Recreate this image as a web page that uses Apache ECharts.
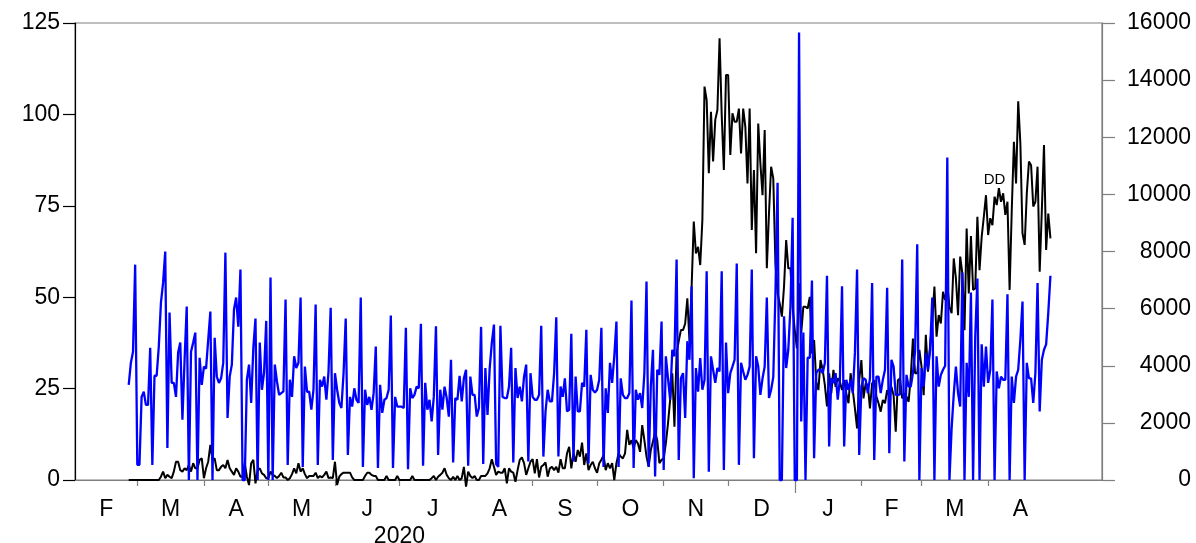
<!DOCTYPE html>
<html>
<head>
<meta charset="utf-8">
<script src="https://cdn.jsdelivr.net/npm/echarts@6/dist/echarts.min.js"></script>
<style>
  html, body { margin: 0; padding: 0; background: #ffffff; }
  #chart { width: 1196px; height: 543px; }
</style>
</head>
<body>
<div id="chart"></div>
<script>
// Daily series, both starting on 26 Feb 2020
const seriesStart = '2020-02-26';
const axisStart = '2020-02-01';
const axisEnd = '2021-05-24';
const monthLetters = ['J', 'F', 'M', 'A', 'M', 'J', 'J', 'A', 'S', 'O', 'N', 'D'];
const yearLabel = '2020';
const yearLabelDate = '2020-07-01';
const yearBreakDate = '2021-01-01';
const firstMonthTick = '2020-03-01';
const lastMonthTick = '2021-04-01';
const firstMonthLabel = '2020-02-01';
const lastMonthLabel = '2021-04-01';
const leftAxis = { min: 0, max: 125, step: 25 };
const rightAxis = { min: 0, max: 16000, step: 2000 };
const noteText = 'DD';
const noteAt = { date: '2021-04-04', value: 82 };

// Left scale (black)
const blackValues = [
  0, 0, 0, 0, 0, 0, 0, 0, 0, 0,
  0, 0, 0, 0, 0, 0.9, 2.3, 0.5, 1.4, 0.9,
  0.5, 2.3, 5.0, 5.0, 2.7, 2.3, 3.2, 2.7, 4.1, 2.3,
  4.6, 3.2, 3.2, 5.5, 5.9, 0.5, 3.2, 5.0, 9.6, 5.5,
  5.9, 2.7, 2.7, 3.6, 4.1, 3.2, 5.5, 3.2, 2.3, 1.4,
  3.2, 2.3, 0.9, 0.9, 4.6, 0.9, -1.4, 4.6, 5.5, -0.9,
  2.7, 3.2, 1.8, 1.4, 0.5, 0.5, 2.3, 1.4, 1.1, 0.5,
  1.1, 2.0, 0.7, 0.7, 0, 0.5, 1.6, 3.2, 1.8, 4.6,
  2.3, 3.2, 1.6, 0.5, 1.1, 1.1, 1.1, 2.0, 0.5, 1.1,
  0.7, 1.4, 2.3, 0.5, 0.7, 0.5, 5.0, -1.4, 0.9, 1.6,
  2.0, 2.0, 2.0, 2.0, 0.7, 0, 0, 0, 0, 0,
  1.1, 2.0, 2.0, 1.4, 1.1, 1.1, 0, 0, 0, 0,
  1.1, 0, 0, 0, 0, 1.1, 0, 0, 0, 0,
  0, 0, 1.1, 0, 0, 0, 0, 0, 0, 0,
  0, 0.5, 1.1, 0, 0.9, 1.4, 2.0, 3.2, 1.4, 0.5,
  0, 0.9, 0, 1.1, 0, 0.5, 3.6, -1.8, 2.3, 1.1,
  0.5, 1.1, 0, 0, 1.1, 1.1, 1.1, 1.8, 3.2, 5.7,
  3.6, 1.4, 2.3, 2.0, 2.0, 3.2, -0.9, 3.2, 2.3, 2.0,
  -0.5, 2.7, 5.5, 6.2, 4.6, 1.4, 3.2, 5.0, 5.7, 1.8,
  5.7, 0.7, 3.6, 4.1, 4.8, 0.9, 3.2, 3.6, 2.7, 3.6,
  2.0, 5.7, 3.2, 3.2, 7.3, 9.1, 3.2, 7.3, 5.0, 8.2,
  6.4, 10.2, 4.1, 7.3, 2.7, 4.1, 5.0, 3.2, 2.0, 4.6,
  5.5, 6.8, 2.7, 4.6, 3.2, 4.6, 0, 4.6, 7.3, 6.4,
  5.9, 7.3, 13.7, 9.6, 10.9, 8.7, 10.9, 10.0, 7.7, 15.0,
  10.9, 6.4, 3.6, 8.2, 10.5, 13.2, 10.9, 4.6, 5.5, 5.9,
  10.0, 15.5, 21.9, 29.2, 14.6, 34.6, 38.0, 41.0, 41.0, 42.8,
  49.7, 37.8, 52.9, 70.7, 62.0, 63.8, 58.8, 71.1, 107.6, 103.9,
  83.9, 100.7, 87.1, 98.5, 101.2, 120.8, 99.8, 84.8, 110.8, 110.8,
  88.9, 100.3, 98.0, 98.0, 101.6, 89.3, 101.6, 96.6, 81.1, 101.6,
  68.4, 84.8, 62.0, 97.5, 86.6, 77.9, 95.7, 57.9, 72.9, 85.7,
  82.5, 59.2, 51.0, 48.3, 44.7, 52.9, 65.6, 57.9, 57.9, 47.4,
  41.0, 36.0, 53.8, 40.1, 47.4, 47.4, 46.9, 50.1, 34.6, 38.3,
  26.9, 24.6, 32.8, 30.1, 26.0, 20.1, 29.2, 23.7, 30.1, 25.5,
  27.8, 26.9, 24.6, 27.3, 23.7, 21.0, 29.2, 24.6, 19.6, 14.1,
  27.3, 32.8, 22.3, 26.4, 26.0, 19.6, 26.4, 27.3, 22.8, 21.0,
  18.7, 21.9, 21.0, 24.6, 22.8, 25.5, 23.2, 13.2, 27.3, 27.8,
  22.3, 23.7, 22.8, 21.4, 28.3, 38.7, 29.2, 29.2, 35.6, 31.0,
  23.2, 39.7, 29.6, 36.9, 43.3, 52.9, 39.2, 45.1, 42.8, 51.5,
  49.2, 53.3, 47.4, 45.6, 60.6, 55.2, 45.1, 61.1, 56.5, 41.0,
  68.8, 51.0, 66.7, 52.0, 52.4, 72.0, 57.4, 66.5, 72.0, 77.9,
  67.0, 71.6, 69.7, 77.5, 75.2, 79.8, 76.1, 78.4, 72.5, 76.1,
  52.0, 73.8, 92.5, 81.1, 103.6, 92.1, 67.5, 64.3, 78.4, 87.1,
  86.1, 74.8, 76.1, 85.7, 57.0, 73.8, 91.6, 62.9, 72.9, 66.1
];

// Right scale (blue)
const blueValues = [
  3330, 4100, 4490, 7540, 530, 530, 2910, 3090, 2630, 2630,
  4630, 530, 3650, 3650, 4670, 6210, 6910, 8000, 1120, 5860,
  3400, 3400, 2910, 4460, 4810, 2110, 4200, 6070, 0, 4490,
  4810, 5160, 0, 4280, 3330, 3970, 3900, 4910, 5900, 0,
  4980, 3620, 3400, 3560, 4100, 7960, 2170, 3620, 4040, 5970,
  6390, 5370, 7370, 0, 0, 3510, 4040, 2700, 4630, 5650,
  0, 4810, 3160, 3760, 5570, 0, 7090, 0, 4040, 3450,
  2980, 3040, 3100, 6320, 530, 3510, 2910, 4330, 3920, 4100,
  6390, 460, 3970, 3090, 3090, 2460, 3160, 6140, 530, 3510,
  3270, 3620, 2810, 3800, 6030, 700, 3740, 3160, 2700, 2520,
  3740, 5650, 880, 2910, 2570, 3210, 2810, 2700, 6390, 460,
  3160, 2630, 2910, 2460, 3040, 4670, 420, 3330, 2350, 2810,
  2870, 3160, 5760, 420, 2910, 2570, 2570, 2570, 2520, 5330,
  380, 3210, 2870, 2980, 3270, 3210, 5470, 500, 3400, 2460,
  2810, 2050, 2910, 5380, 880, 3160, 2460, 3270, 2870, 2220,
  4210, 610, 2870, 2810, 3650, 2750, 3560, 3860, 500, 3620,
  2980, 2980, 2220, 2520, 5360, 560, 3920, 2280, 3900, 4800,
  5440, 560, 460, 5400, 2910, 2870, 2870, 3270, 4630, 610,
  3920, 2870, 3270, 2750, 3620, 4040, 650, 3740, 2910, 2810,
  2810, 2980, 5400, 820, 2400, 3160, 2750, 2750, 3740, 5700,
  820, 3270, 2910, 3560, 2400, 2460, 5120, 650, 3620, 2400,
  2400, 3400, 3270, 5260, 580, 3680, 3160, 3060, 3160, 3510,
  5330, 460, 3210, 2350, 4100, 3400, 4330, 5550, 460, 3560,
  2980, 2870, 2870, 3040, 6280, 420, 3160, 2810, 3040, 2520,
  3740, 6950, 460, 3270, 4560, 120, 3860, 3680, 5550, 350,
  4330, 3560, 2810, 4560, 4330, 7720, 700, 3560, 3740, 2170,
  4860, 4210, 6780, 60, 3920, 3090, 4270, 3160, 3500, 7310,
  290, 4330, 3860, 3400, 3920, 3800, 7310, 350, 4810, 3040,
  3740, 3970, 4210, 7580, 530, 4100, 3800, 3510, 3680, 3970,
  7370, 760, 4330, 3970, 2980, 3560, 3970, 6390, 2870, 3160,
  3600, 6500, 10410, 0, 0, 5730, 3920, 4560, 6070, 9180,
  0, 0, 15670, 2050, 5160, 0, 4280, 4280, 6980, 760,
  3740, 3860, 3860, 3740, 4100, 7150, 1170, 3560, 3400, 3740,
  2810, 3510, 6780, 1170, 3510, 3160, 3510, 3040, 4450, 7370,
  880, 3270, 3560, 3510, 3040, 3560, 6900, 700, 3620, 3620,
  3040, 3510, 3860, 6730, 940, 4210, 3970, 2980, 2980, 3000,
  7720, 650, 3680, 3270, 3270, 3740, 4500, 8250, 0, 3920,
  3270, 4450, 3860, 4560, 6390, 0, 4330, 3270, 3680, 3860,
  4000, 11290, 0, 1800, 3000, 3970, 3040, 2570, 7260, 0,
  4100, 2910, 6560, 0, 5000, 7050, 0, 4750, 3270, 4670,
  3400, 3860, 6320, 0, 3800, 3210, 3620, 3510, 3510, 6500,
  0, 3620, 2700, 3620, 3860, 4910, 6250, 0, 4100, 3560,
  3560, 2700, 3740, 6900, 2400, 4210, 4560, 4750, 5860, 7150
];

const DAY = 86400000;
function utc(s) {
  const p = s.split('-').map(Number);
  return Date.UTC(p[0], p[1] - 1, p[2]);
}
function addMonths(t, n) {
  const d = new Date(t);
  return Date.UTC(d.getUTCFullYear(), d.getUTCMonth() + n, 1);
}

const t0 = utc(seriesStart);
const blackData = blackValues.map((v, i) => [t0 + i * DAY, v]);
const blueData = blueValues.map((v, i) => [t0 + i * DAY, v]);

// Month boundary ticks (the year boundary gets its own longer tick)
const yearBreak = utc(yearBreakDate);
const monthTicks = [];
for (let t = utc(firstMonthTick); t <= utc(lastMonthTick); t = addMonths(t, 1)) {
  if (t !== yearBreak) monthTicks.push(t);
}
// Month initials sit in the middle of each month
const monthLabelPos = [];
for (let t = utc(firstMonthLabel); t <= utc(lastMonthLabel); t = addMonths(t, 1)) {
  monthLabelPos.push((t + addMonths(t, 1)) / 2);
}

const FONT = '"Liberation Sans", Arial, Helvetica, sans-serif';
const FS = 23;
const xMin = utc(axisStart);
const xMax = utc(axisEnd);

const chart = echarts.init(document.getElementById('chart'), null, { renderer: 'canvas' });

// Day axis measured in UTC milliseconds
const baseX = {
  type: 'value',
  gridIndex: 0,
  min: xMin,
  max: xMax,
  position: 'bottom',
  splitLine: { show: false },
  axisPointer: { show: false }
};

chart.setOption({
  animation: false,
  backgroundColor: '#ffffff',
  grid: {
    left: 75, right: 94, top: 23, bottom: 63,
    containLabel: false, outerBoundsMode: 'none',
    show: true, borderColor: '#7f7f7f', borderWidth: 1.2, backgroundColor: 'transparent'
  },
  xAxis: [
    Object.assign({}, baseX, {
      axisLine: { show: true, onZero: false, lineStyle: { color: '#7f7f7f', width: 1.2 } },
      axisTick: { show: true, customValues: monthTicks, length: 6, inside: false, lineStyle: { color: '#7f7f7f', width: 1.2 } },
      axisLabel: {
        show: true, customValues: monthLabelPos, margin: 18,
        color: '#000', fontFamily: FONT, fontSize: FS,
        formatter: (v) => monthLetters[new Date(v).getUTCMonth()]
      }
    }),
    Object.assign({}, baseX, {
      axisLine: { show: false },
      axisTick: { show: true, customValues: [yearBreak], length: 13, lineStyle: { color: '#7f7f7f', width: 1.2 } },
      axisLabel: { show: false }
    }),
    Object.assign({}, baseX, {
      axisLine: { show: false },
      axisTick: { show: false },
      axisLabel: {
        show: true, customValues: [utc(yearLabelDate)], margin: 45,
        color: '#000', fontFamily: FONT, fontSize: FS,
        formatter: () => yearLabel
      }
    })
  ],
  yAxis: [
    {
      type: 'value', position: 'left',
      min: leftAxis.min, max: leftAxis.max, interval: leftAxis.step,
      splitLine: { show: false },
      axisLine: { show: true, onZero: false, lineStyle: { color: '#000', width: 1.2 } },
      axisTick: { show: true, length: 12, lineStyle: { color: '#000', width: 1.2 } },
      axisLabel: { color: '#000', fontFamily: FONT, fontSize: FS, margin: 15, formatter: (v) => String(v) }
    },
    {
      type: 'value', position: 'right',
      min: rightAxis.min, max: rightAxis.max, interval: rightAxis.step,
      splitLine: { show: false },
      axisLine: { show: true, onZero: false, lineStyle: { color: '#7f7f7f', width: 1.2 } },
      axisTick: { show: true, length: 13, lineStyle: { color: '#7f7f7f', width: 1.2 } },
      axisLabel: { color: '#000', fontFamily: FONT, fontSize: FS, margin: 89, align: 'right', formatter: (v) => String(v) }
    }
  ],
  series: [
    {
      name: 'black', type: 'line', xAxisIndex: 0, yAxisIndex: 0,
      data: blackData, showSymbol: false, symbol: 'none', clip: false, silent: true,
      lineStyle: { color: '#000000', width: 2 }
    },
    {
      name: 'blue', type: 'line', xAxisIndex: 0, yAxisIndex: 1,
      data: blueData, showSymbol: false, symbol: 'none', clip: false, silent: true,
      lineStyle: { color: '#0000ff', width: 2.3 }
    }
  ]
});

// Series tag placed in data coordinates
const tagPos = chart.convertToPixel({ xAxisIndex: 0, yAxisIndex: 0 }, [utc(noteAt.date), noteAt.value]);
chart.setOption({
  graphic: [{
    type: 'text', x: tagPos[0], y: tagPos[1], silent: true,
    style: { text: noteText, fill: '#000', font: '15px ' + FONT, textAlign: 'center', textVerticalAlign: 'middle' }
  }]
});
</script>
</body>
</html>
